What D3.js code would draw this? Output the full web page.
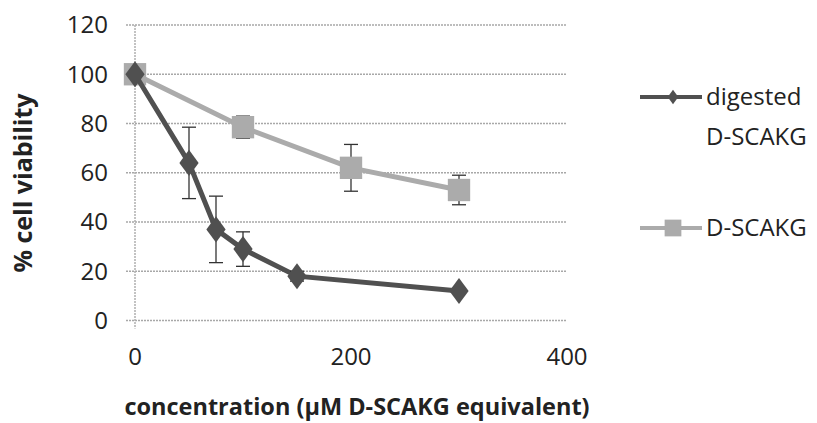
<!DOCTYPE html>
<html>
<head>
<meta charset="utf-8">
<script src="https://cdn.jsdelivr.net/npm/d3@7"></script>
<style>
  body { margin: 0; background: #fff; }
  svg text { font-family: "Open Sans", "Liberation Sans", sans-serif; fill: #222; }
</style>
</head>
<body>
<div id="chart"></div>
<script>
// concentration (µM D-SCAKG equivalent)
const digestedX   = [0, 50, 75, 100, 150, 300];
const digestedY   = [100, 64, 37, 29, 18, 12];
const digestedErr = [0, 14.5, 13.5, 7, 2, 1];

const intactX   = [0, 100, 200, 300];
const intactY   = [100, 78.5, 62, 53];
const intactErr = [0, 4.5, 9.5, 6];

const xTicks = [0, 200, 400];
const yTicks = [0, 20, 40, 60, 80, 100, 120];

const seriesNames = [['digested', 'D-SCAKG'], ['D-SCAKG']];

const width = 817, height = 423;
const m = { top: 25, right: 250, bottom: 103, left: 135 };

const svg = d3.select('#chart').append('svg')
  .attr('width', width)
  .attr('height', height);

const x = d3.scaleLinear().domain([0, 400]).range([m.left, 567]);
const y = d3.scaleLinear().domain([0, 120]).range([320.5, m.top]);

// Excel-style diamond, a bit wider than d3's default
const diamond = {
  draw(ctx, size) {
    const h = Math.sqrt(size * 0.68), w = h * 0.74;
    ctx.moveTo(0, -h / 2);
    ctx.lineTo(w / 2, 0);
    ctx.lineTo(0, h / 2);
    ctx.lineTo(-w / 2, 0);
    ctx.closePath();
  }
};

// gridlines
svg.append('g')
  .selectAll('line')
  .data(yTicks)
  .join('line')
    .attr('x1', m.left - 9)
    .attr('x2', x(400))
    .attr('y1', d => y(d))
    .attr('y2', d => y(d))
    .attr('stroke', '#a8a8a8')
    .attr('stroke-width', 1.5)
    .attr('stroke-dasharray', '2,1');

// y axis line
svg.append('line')
  .attr('x1', x(0)).attr('x2', x(0))
  .attr('y1', y(120)).attr('y2', y(0) + 8)
  .attr('stroke', '#b0b0b0')
  .attr('stroke-width', 1.5)
  .attr('stroke-dasharray', '2,1');

// tick labels
svg.append('g')
  .selectAll('text')
  .data(yTicks)
  .join('text')
    .attr('x', 108)
    .attr('y', d => y(d))
    .attr('dy', '0.35em')
    .attr('text-anchor', 'end')
    .style('font-size', '24px')
    .text(d => d);

svg.append('g')
  .selectAll('text')
  .data(xTicks)
  .join('text')
    .attr('x', d => x(d))
    .attr('y', 357)
    .attr('dy', '0.35em')
    .attr('text-anchor', 'middle')
    .style('font-size', '24px')
    .text(d => d);

// axis titles
svg.append('text')
  .attr('transform', 'translate(32,183) rotate(-90)')
  .attr('text-anchor', 'middle')
  .style('font-size', '25px')
  .style('font-weight', 'bold')
  .text('% cell viability');

svg.append('text')
  .attr('x', 357)
  .attr('y', 415)
  .attr('text-anchor', 'middle')
  .style('font-size', '23.5px')
  .style('font-weight', 'bold')
  .text('concentration (µM D-SCAKG equivalent)');

const line = d3.line().x(d => x(d[0])).y(d => y(d[1]));

function drawSeries(xs, ys, errs, color, symbol, size) {
  const pts = xs.map((v, i) => [v, ys[i], errs[i]]);
  const g = svg.append('g');

  g.append('path')
    .datum(pts)
    .attr('d', line)
    .attr('fill', 'none')
    .attr('stroke', color)
    .attr('stroke-width', 5);

  // error bars
  const eb = g.selectAll('.err')
    .data(pts.filter(d => d[2] > 0))
    .join('g')
      .attr('class', 'err');
  eb.append('line')
    .attr('x1', d => x(d[0])).attr('x2', d => x(d[0]))
    .attr('y1', d => y(d[1] + d[2])).attr('y2', d => y(d[1] - d[2]))
    .attr('stroke', '#333').attr('stroke-width', 1.3);
  eb.selectAll('.cap')
    .data(d => [d[1] + d[2], d[1] - d[2]].map(v => [d[0], v]))
    .join('line')
      .attr('x1', d => x(d[0]) - 7).attr('x2', d => x(d[0]) + 7)
      .attr('y1', d => y(d[1])).attr('y2', d => y(d[1]))
      .attr('stroke', '#333').attr('stroke-width', 1.3);

  g.selectAll('.mark')
    .data(pts)
    .join('path')
      .attr('class', 'mark')
      .attr('transform', d => `translate(${x(d[0])},${y(d[1])})`)
      .attr('d', d3.symbol(symbol, size))
      .attr('fill', color);
}

drawSeries(intactX, intactY, intactErr, '#ababab', d3.symbolSquare, 500);
drawSeries(digestedX, digestedY, digestedErr, '#505050', diamond, 1000);

// legend
const legend = [
  { color: '#505050', symbol: diamond, size: 300, y: 97, label: seriesNames[0] },
  { color: '#ababab', symbol: d3.symbolSquare, size: 280, y: 228, label: seriesNames[1] }
];
const lg = svg.selectAll('.legend')
  .data(legend)
  .join('g')
    .attr('class', 'legend')
    .attr('transform', d => `translate(0,${d.y})`);
lg.append('line')
  .attr('x1', 640).attr('x2', 702)
  .attr('stroke', d => d.color)
  .attr('stroke-width', 4);
lg.append('path')
  .attr('transform', 'translate(673,0)')
  .attr('d', d => d3.symbol(d.symbol, d.size)())
  .attr('fill', d => d.color);
lg.each(function(d) {
  d3.select(this).selectAll('text')
    .data(d.label)
    .join('text')
      .attr('x', 706)
      .attr('y', (t, i) => i * 40)
      .attr('dy', '0.35em')
      .style('font-size', '24px')
      .text(t => t);
});
</script>
</body>
</html>
